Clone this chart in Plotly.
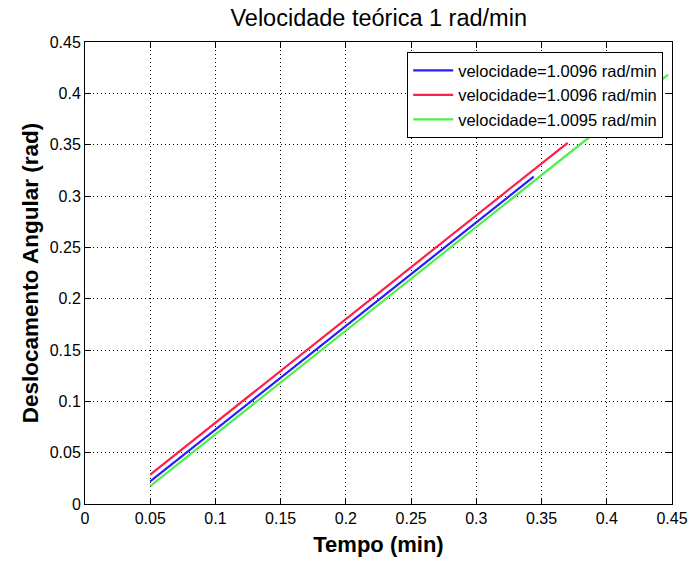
import plotly.graph_objects as go

# Measured angular displacement (rad) vs time (min) for three runs
tempo_azul = [0.05, 0.344]
desloc_azul = [0.022, 0.3188]

tempo_vermelho = [0.05, 0.37]
desloc_vermelho = [0.0287, 0.3518]

tempo_verde = [0.05, 0.447]
desloc_verde = [0.0175, 0.4183]

nomes = [
    "velocidade=1.0096 rad/min",
    "velocidade=1.0096 rad/min",
    "velocidade=1.0095 rad/min",
]
cores = ["#2a1bff", "#ff1e4a", "#4cf04c"]

x_ticks = [0, 0.05, 0.1, 0.15, 0.2, 0.25, 0.3, 0.35, 0.4, 0.45]
x_tick_labels = ["0", "0.05", "0.1", "0.15", "0.2", "0.25", "0.3", "0.35", "0.4", "0.45"]
y_ticks = [0, 0.05, 0.1, 0.15, 0.2, 0.25, 0.3, 0.35, 0.4, 0.45]
y_tick_labels = ["0", "0.05", "0.1", "0.15", "0.2", "0.25", "0.3", "0.35", "0.4", "0.45"]

fig = go.Figure()
for xs, ys, nome, cor in zip(
    [tempo_azul, tempo_vermelho, tempo_verde],
    [desloc_azul, desloc_vermelho, desloc_verde],
    nomes,
    cores,
):
    fig.add_trace(go.Scatter(x=xs, y=ys, mode="lines", name=nome,
                             line=dict(color=cor, width=2.2)))

fonte = "Liberation Sans, Arial, sans-serif"
eixo = dict(
    showline=True, linecolor="black", linewidth=1, mirror="ticks",
    ticks="inside", ticklen=6, tickcolor="black",
    showgrid=True, gridcolor="black", griddash="1px,3px", gridwidth=1,
    zeroline=False, automargin=False,
    tickfont=dict(family=fonte, size=16, color="black"),
)

fig.update_layout(
    width=693, height=565,
    margin=dict(l=85, r=21, t=42, b=61),
    paper_bgcolor="white", plot_bgcolor="white",
    title=dict(text="Velocidade teórica 1 rad/min", x=0.5465, xanchor="center",
               y=0.969, yanchor="middle",
               font=dict(family=fonte, size=23.5, color="black")),
    xaxis=dict(eixo, range=[0, 0.45], tickvals=x_ticks, ticktext=x_tick_labels,
               title=dict(text="<b>Tempo (min)</b>", standoff=10,
                          font=dict(family=fonte, size=22, color="black"))),
    yaxis=dict(eixo, range=[0, 0.45], tickvals=y_ticks, ticktext=y_tick_labels,
               title=dict(text="<b>Deslocamento Angular (rad)</b>", standoff=4,
                          font=dict(family=fonte, size=22.5, color="black"))),
    legend=dict(x=0.985, xanchor="right", y=0.978, yanchor="top",
                bgcolor="white", bordercolor="black", borderwidth=1,
                font=dict(family=fonte, size=16.5, color="black"),
                tracegroupgap=0, itemwidth=40),
    showlegend=True,
)

fig.write_html("out.html")
